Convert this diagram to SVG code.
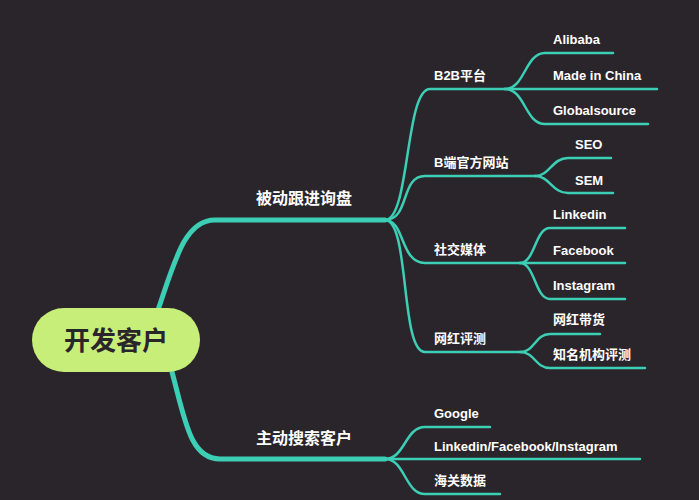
<svg xmlns="http://www.w3.org/2000/svg" width="699" height="500" viewBox="0 0 699 500">
<style>
.c{fill:none;stroke:#3ccfb5;stroke-width:2.5;stroke-linecap:round}
.m{stroke-width:5}
.t{fill:#fff;font-family:"Liberation Sans","Noto Sans CJK SC",sans-serif;font-weight:bold;font-size:13px}
.h{font-size:16px}
</style>
<rect width="699" height="500" fill="#2a252b"/>
<g id="connectors">
<path class="c m" d="M158,310 C175,260 185,220 215,220 L385,220"/>
<path class="c m" d="M172,372 C185,420 190,459 220,459 L385,459"/>
<path class="c" d="M385,220 C410,220 405,89 430,89 L505,89"/>
<path class="c" d="M385,220 C410,220 400,176 425,176 L535,176"/>
<path class="c" d="M385,220 C405,220 400,263 425,263 L520,263"/>
<path class="c" d="M385,220 C410,220 400,352 425,352 L520,352"/>
<path class="c" d="M505,89 C525,89 525,53 545,53 L613,53"/>
<path class="c" d="M505,89 L657,89"/>
<path class="c" d="M505,89 C525,89 525,124 545,124 L648,124"/>
<path class="c" d="M535,176 C550,176 552,158 568,158 L611,158"/>
<path class="c" d="M535,176 C550,176 552,193 568,193 L613,193"/>
<path class="c" d="M520,263 C535,263 535,228 550,228 L625,228"/>
<path class="c" d="M520,263 L625,263"/>
<path class="c" d="M520,263 C535,263 535,299 550,299 L625,299"/>
<path class="c" d="M520,352 C535,352 535,334 550,334 L600,334"/>
<path class="c" d="M520,352 C535,352 535,368 550,368 L645,368"/>
<path class="c" d="M385,459 C405,459 405,427 425,427 L490,427"/>
<path class="c" d="M385,459 L640,459"/>
<path class="c" d="M385,459 C405,459 405,494 425,494 L500,494"/>
</g>
<g id="root"><rect x="32" y="308" width="168" height="64" rx="32" fill="#c8ee7a"/><text x="116" y="350" text-anchor="middle" font-family="Noto Sans CJK SC,sans-serif" font-weight="bold" font-size="26" fill="#2a252b">开发客户</text></g>
<g id="n1"><text class="t h" x="256" y="204">被动跟进询盘</text></g>
<g id="n2"><text class="t h" x="256" y="444">主动搜索客户</text></g>
<g id="b2b"><text class="t" x="434" y="80">B2B平台</text></g>
<g id="bsite"><text class="t" x="434" y="167">B端官方网站</text></g>
<g id="social"><text class="t" x="434" y="254">社交媒体</text></g>
<g id="kol"><text class="t" x="434" y="343">网红评测</text></g>
<g id="alibaba"><text class="t" x="553" y="44">Alibaba</text></g>
<g id="mic"><text class="t" x="553" y="80">Made in China</text></g>
<g id="gs"><text class="t" x="553" y="115">Globalsource</text></g>
<g id="seo"><text class="t" x="575" y="149">SEO</text></g>
<g id="sem"><text class="t" x="575" y="185">SEM</text></g>
<g id="li"><text class="t" x="553" y="219">Linkedin</text></g>
<g id="fb"><text class="t" x="553" y="255">Facebook</text></g>
<g id="ig"><text class="t" x="553" y="290">Instagram</text></g>
<g id="dh"><text class="t" x="553" y="324">网红带货</text></g>
<g id="jg"><text class="t" x="553" y="359">知名机构评测</text></g>
<g id="google"><text class="t" x="434" y="418">Google</text></g>
<g id="lfi"><text class="t" x="434" y="451">Linkedin/Facebook/Instagram</text></g>
<g id="hg"><text class="t" x="434" y="485">海关数据</text></g>
</svg>
